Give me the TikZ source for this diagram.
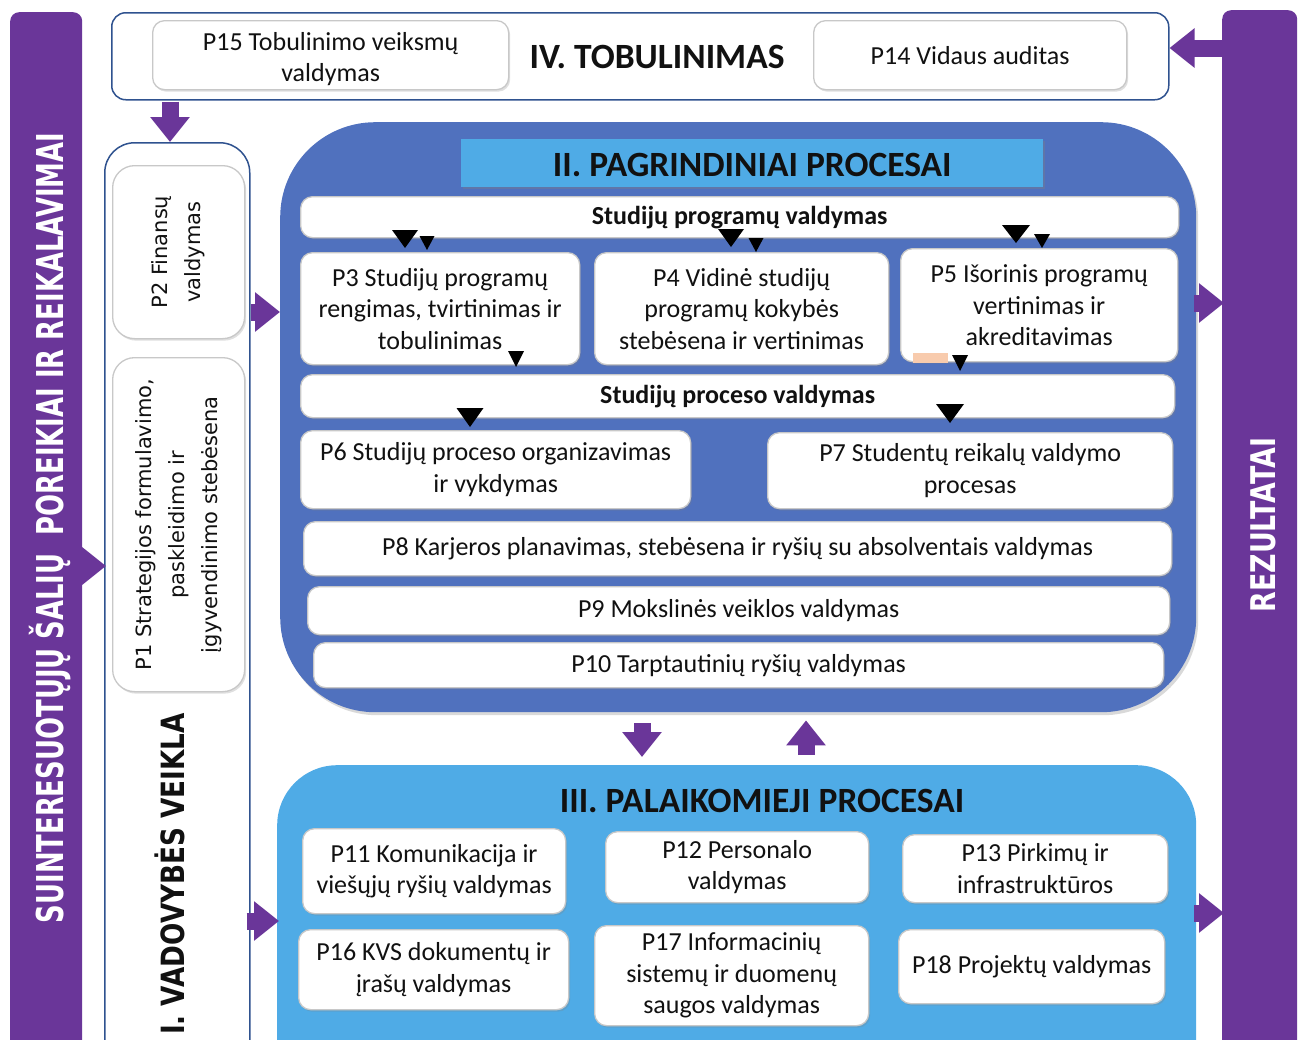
\documentclass[tikz,border=0pt]{standalone}
\usepackage{fontspec}
\setmainfont{Carlito}
\newfontfamily\vfont{DejaVu Sans}
\usetikzlibrary{arrows.meta,shadows,calc}
\definecolor{purp}{HTML}{6A3699}
\definecolor{mblue}{HTML}{5071BE}
\definecolor{lblue}{HTML}{4FABE6}
\definecolor{navy}{HTML}{2F528F}
\definecolor{peach}{HTML}{F8CBAD}
\definecolor{gbord}{HTML}{C8C8C8}
\definecolor{ink}{HTML}{111111}
\newcommand\dtri[4]{\fill (#1-#3/2,#2-#4) -- (#1+#3/2,#2-#4) -- (#1,#2) -- cycle;}
\tikzset{
  wb/.style={draw=gbord, line width=1.3pt, fill=white, rounded corners=12pt, inner sep=0pt,
    anchor=north west, align=center, text=ink, font=\fontsize{26}{31.5}\selectfont,
    drop shadow={shadow xshift=1.5pt, shadow yshift=-2pt, opacity=0.25}},
  bt/.style={font=\bfseries\fontsize{26}{31.5}\selectfont},
  hd/.style={font=\bfseries\fontsize{35.5}{40}\selectfont, text=ink, inner sep=0pt},
  frame/.style={draw=navy, line width=1.5pt, fill=white, inner sep=0pt, anchor=north west},
  parr/.style={draw=purp, line width=17pt, -{Triangle[length=25pt,width=38pt]}},
  bar/.style={fill=purp, rounded corners=9pt, inner sep=0pt, anchor=north west},
  vt/.style={rotate=90, anchor=base, text=white, inner sep=0pt},
  rt/.style={rotate=90, align=center, inner sep=0pt, text=ink, font=\vfont\fontsize{21}{33}\selectfont}
}
\begin{document}
\begin{tikzpicture}[x=1pt,y=-1pt]
\useasboundingbox (0,0) rectangle (1304,1039);
\clip (0,0) rectangle (1304,1039);

% side bars
\node[bar, minimum width=72pt, minimum height=1060pt] (lbar) at (10,12) {};
\node[vt, font=\vfont\bfseries\fontsize{37}{40}\selectfont] (ltxt) at (63,528)
  {\scalebox{0.70}[1]{SUINTERESUOTŲJŲ ŠALIŲ\ \ POREIKIAI IR REIKALAVIMAI}};
\node[bar, minimum width=75pt, minimum height=1060pt] (rbar) at (1222,10) {};
\node[vt, font=\vfont\bfseries\fontsize{34}{40}\selectfont] (rtxt) at (1275,525)
  {\scalebox{0.79}[1]{REZULTATAI}};

% IV top box
\node[frame, rounded corners=14pt, minimum width=1057pt, minimum height=87pt] (iv) at (111,12) {};
\node[wb] (p15) at (152,20) [minimum width=356pt, minimum height=69pt] {};
\node[align=center, inner sep=0pt, text=ink, font=\fontsize{26}{31.5}\selectfont] (p15t) at ($(p15.center)+(0,4)$) {P15 Tobulinimo veiksmų\\valdymas};
\node[hd] (ivt) at (657,57) {IV. TOBULINIMAS};
\node[wb] (p14) at (813,20) [minimum width=313pt, minimum height=69pt] {P14 Vidaus auditas};

% I left box
\node[frame, rounded corners=30pt, minimum width=145pt, minimum height=960pt] (bI) at (104,142) {};
\node[wb, rounded corners=22pt] (p2) at (112,165) [minimum width=132pt, minimum height=173pt] {};
\node[rt] (p2t) at (p2.center) {P2 Finansų\\valdymas};
\node[wb, rounded corners=22pt] (p1) at (112,357) [minimum width=132pt, minimum height=334pt] {};
\node[rt] (p1t) at (p1.center) {P1 Strategijos formulavimo,\\paskleidimo ir\\įgyvendinimo stebėsena};
\node[vt, text=ink, font=\vfont\bfseries\fontsize{32}{40}\selectfont] (bIt) at (184,874)
  {\scalebox{0.82}[1]{I. VADOVYBĖS VEIKLA}};

% II main processes
\node[fill=mblue, rounded corners=95pt, inner sep=0pt, anchor=north west, minimum width=916pt, minimum height=590pt,
  drop shadow={shadow xshift=2pt, shadow yshift=-3pt, opacity=0.3}] (II) at (280,122) {};
\node[fill=lblue, inner sep=0pt, anchor=north west, minimum width=582pt, minimum height=48pt,
  drop shadow={shadow xshift=2pt, shadow yshift=-2pt, opacity=0.35}] (IIband) at (461,139) {};
\node[hd] (IIt) at ($(IIband.center)+(0,2)$) {II. PAGRINDINIAI PROCESAI};
\node[wb, bt] (spv) at (300,196) [minimum width=878pt, minimum height=41pt] {Studijų programų valdymas};
\node[wb] (p3) at (300,252) [minimum width=279pt, minimum height=112pt] {P3 Studijų programų\\rengimas, tvirtinimas ir\\tobulinimas};
\node[wb] (p4) at (594,252) [minimum width=294pt, minimum height=112pt] {P4 Vidinė studijų\\programų kokybės\\stebėsena ir vertinimas};
\node[wb] (p5) at (900,248) [minimum width=277pt, minimum height=113pt] {P5 Išorinis programų\\vertinimas ir\\akreditavimas};
\node[wb, bt] (spr) at (300,374) [minimum width=874pt, minimum height=43pt] {Studijų proceso valdymas};
\node[wb] (p6) at (300,430) [minimum width=390pt, minimum height=78pt] {P6 Studijų proceso organizavimas\\ir vykdymas};
\node[wb] (p7) at (767,432) [minimum width=405pt, minimum height=76pt] {P7 Studentų reikalų valdymo\\procesas};
\node[wb] (p8) at (303,521) [minimum width=868pt, minimum height=54pt] {P8 Karjeros planavimas, stebėsena ir ryšių su absolventais valdymas};
\node[wb] (p9) at (307,586) [minimum width=862pt, minimum height=48pt] {P9 Mokslinės veiklos valdymas};
\node[wb] (p10) at (313,642) [minimum width=850pt, minimum height=45pt] {P10 Tarptautinių ryšių valdymas};
\fill[peach] (913,353) rectangle (948,363);

% small black arrowheads
\dtri{405}{248}{26}{18}
\dtri{427}{250}{15}{14}
\dtri{731}{247}{26}{18}
\dtri{756}{252}{15}{14}
\dtri{1016}{243}{28}{18}
\dtri{1042}{248}{16}{14}
\dtri{516}{367}{16}{16}
\dtri{960}{371}{16}{16}
\dtri{470}{427}{27}{19}
\dtri{950}{423}{28}{19}

% III support processes
\node[fill=lblue, rounded corners=60pt, inner sep=0pt, anchor=north west, minimum width=919pt, minimum height=340pt] (III) at (277,765) {};
\node[hd] (IIIt) at (762,801) {III. PALAIKOMIEJI PROCESAI};
\node[wb] (p11) at (302,828) [minimum width=263pt, minimum height=85pt] {P11 Komunikacija ir\\viešųjų ryšių valdymas};
\node[wb] (p12) at (605,831) [minimum width=263pt, minimum height=71pt] {P12 Personalo\\valdymas};
\node[wb] (p13) at (902,834) [minimum width=265pt, minimum height=68pt] {P13 Pirkimų ir\\infrastruktūros};
\node[wb] (p16) at (298,929) [minimum width=270pt, minimum height=80pt] {P16 KVS dokumentų ir\\įrašų valdymas};
\node[wb] (p17) at (594,925) [minimum width=274pt, minimum height=100pt] {P17 Informacinių\\sistemų ir duomenų\\saugos valdymas};
\node[wb] (p18) at (898,929) [minimum width=266pt, minimum height=74pt] {P18 Projektų valdymas};

% purple block arrows
\draw[parr] ($(rbar.north west)+(0,38)$) -- ($(iv.north east)+(0,36)$);
\draw[parr] ($(iv.south west)+(59,1)$) -- ($(bI.north west)+(66,0)$);
\draw[parr] ($(bI.north east)+(0,170)$) -- ($(II.north west)+(0,190)$);
\draw[parr] ($(lbar.north east)+(-3,554)$) -- ($(bI.north west)+(2,424)$);
\draw[parr] ($(bI.north east)+(-4,779)$) -- ($(III.north west)+(2,156)$);
\draw[parr] ($(II.north east)+(-2,181)$) -- ($(rbar.north west)+(2,293)$);
\draw[parr] ($(III.north west)+(917,148)$) -- ($(rbar.north west)+(2,903)$);
\draw[parr] ($(II.south west)+(362,11)$) -- ($(III.north west)+(365,-8)$);
\draw[parr] ($(III.north west)+(529,-10)$) -- ($(II.south west)+(526,8)$);
\end{tikzpicture}
\end{document}
